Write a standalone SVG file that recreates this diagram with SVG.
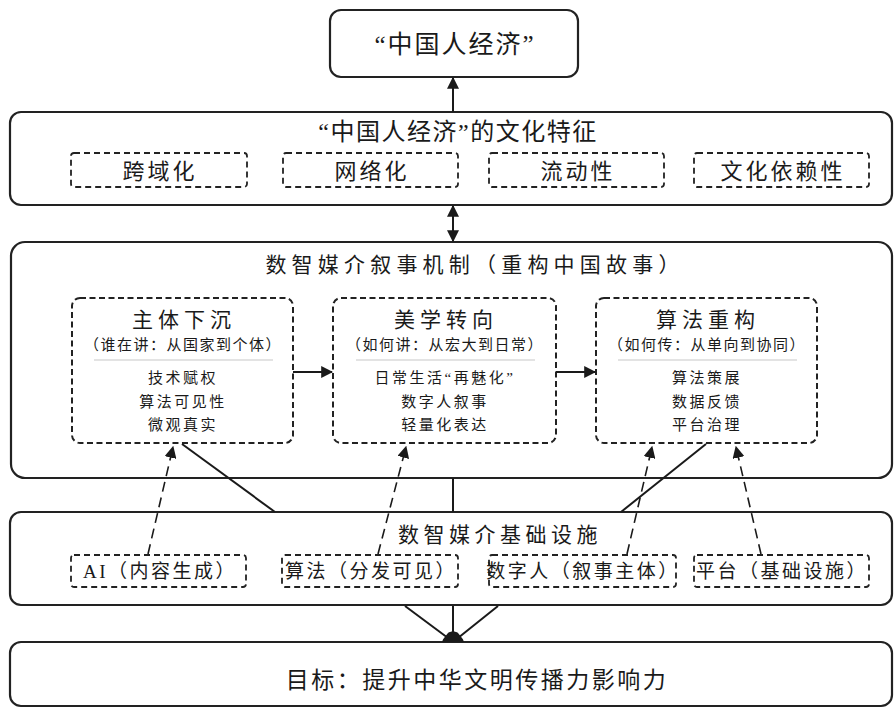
<svg xmlns="http://www.w3.org/2000/svg" width="894" height="708" viewBox="0 0 894 708">
<defs>
<style>
text{font-family:"Liberation Serif","Noto Sans CJK SC",serif;fill:#1a1a1a;text-anchor:middle;dominant-baseline:central}
.box{fill:#fff;stroke:#222;stroke-width:2.2}
.dbox{fill:#fff;stroke:#222;stroke-width:2;stroke-dasharray:6 3.5}
.sbox{fill:none;stroke:#222;stroke-width:1.8;stroke-dasharray:6 4}
.ln{stroke:#1a1a1a;stroke-width:2;fill:none}
.dl{stroke:#1a1a1a;stroke-width:1.6;fill:none;stroke-dasharray:10 6}
.sep{stroke:#c8c8c8;stroke-width:1.2}
.t1{font-size:25px;letter-spacing:2px}
.t2{font-size:24px;letter-spacing:1.5px}
.t3{font-size:22px;letter-spacing:3px}
.t4{font-size:21px;letter-spacing:5.2px}
.t4b{font-size:21px;letter-spacing:4.5px}
.t5{font-size:21px;letter-spacing:5px}
.t6{font-size:15px;letter-spacing:1.5px}
.t7{font-size:15px;letter-spacing:2.5px}
.t8{font-size:19px;letter-spacing:2.5px}
.t9{font-size:23px;letter-spacing:2.5px}
</style>
<marker id="ahb" viewBox="0 0 10 10" refX="9" refY="5" markerWidth="12" markerHeight="12" markerUnits="userSpaceOnUse" orient="auto-start-reverse">
<path d="M0,0 L10,5 L0,10 z" fill="#1a1a1a"/>
</marker>
<marker id="dome" viewBox="0 0 22 12" refX="11" refY="11" markerWidth="22" markerHeight="12" markerUnits="userSpaceOnUse" orient="0">
<path d="M0,12 C1,8 4,6 6,3 C8,1 14,1 16,3 C18,6 21,8 22,12 z" fill="#1a1a1a"/>
</marker>
</defs>

<g id="node-economy">
<rect class="box" x="330" y="10" width="248" height="67" rx="11"/>
<text class="t1" x="455" y="44">“中国人经济”</text>
</g>

<g id="node-features">
<rect class="box" x="10" y="112" width="882" height="93" rx="11"/>
<text class="t2" x="458" y="132">“中国人经济”的文化特征</text>
<rect class="sbox" x="71" y="153" width="176" height="34" rx="3"/>
<text class="t3" x="160" y="171">跨域化</text>
<rect class="sbox" x="283" y="153" width="175" height="34" rx="3"/>
<text class="t3" x="372" y="171">网络化</text>
<rect class="sbox" x="489" y="153" width="175" height="34" rx="3"/>
<text class="t3" x="578" y="171">流动性</text>
<rect class="sbox" x="694" y="153" width="175" height="34" rx="3"/>
<text class="t3" x="783" y="171">文化依赖性</text>
</g>

<g id="node-mechanism">
<rect class="box" x="11" y="242" width="881" height="236" rx="14"/>
<text class="t4" x="475" y="265">数智媒介叙事机制（重构中国故事）</text>
</g>

<g id="node-subject">
<rect class="dbox" x="72" y="298" width="221" height="145" rx="8"/>
<text class="t5" x="184" y="320">主体下沉</text>
<text class="t6" x="183" y="345">（谁在讲：从国家到个体）</text>
<line class="sep" x1="94" y1="360" x2="273" y2="360"/>
<text class="t7" x="183" y="378">技术赋权</text>
<text class="t7" x="183" y="402">算法可见性</text>
<text class="t7" x="183" y="425">微观真实</text>
</g>

<g id="node-aesthetic">
<rect class="dbox" x="333" y="298" width="223" height="145" rx="8"/>
<text class="t5" x="446" y="320">美学转向</text>
<text class="t6" x="445" y="345">（如何讲：从宏大到日常）</text>
<line class="sep" x1="356" y1="360" x2="535" y2="360"/>
<text class="t7" x="445" y="378">日常生活“再魅化”</text>
<text class="t7" x="445" y="402">数字人叙事</text>
<text class="t7" x="445" y="425">轻量化表达</text>
</g>

<g id="node-algorithm">
<rect class="dbox" x="596" y="298" width="221" height="145" rx="8"/>
<text class="t5" x="708" y="320">算法重构</text>
<text class="t6" x="707" y="345">（如何传：从单向到协同）</text>
<line class="sep" x1="618" y1="360" x2="797" y2="360"/>
<text class="t7" x="707" y="378">算法策展</text>
<text class="t7" x="707" y="402">数据反馈</text>
<text class="t7" x="707" y="425">平台治理</text>
</g>

<g id="node-infrastructure">
<rect class="box" x="10" y="512" width="882" height="93" rx="11"/>
<text class="t4b" x="500" y="535">数智媒介基础设施</text>
<rect class="sbox" x="71" y="555" width="175" height="32" rx="3"/>
<text class="t8" x="160" y="571">AI（内容生成）</text>
<rect class="sbox" x="282" y="555" width="176" height="32" rx="3"/>
<text class="t8" x="371" y="571">算法（分发可见）</text>
<rect class="sbox" x="489" y="555" width="187" height="32" rx="3"/>
<text class="t8" x="583" y="571">数字人（叙事主体）</text>
<rect class="sbox" x="694" y="555" width="175" height="32" rx="3"/>
<text class="t8" x="782" y="571">平台（基础设施）</text>
</g>

<g id="node-goal">
<rect class="box" x="10" y="642" width="882" height="64" rx="11"/>
<text class="t9" x="477" y="680">目标：提升中华文明传播力影响力</text>
</g>

<g id="connectors">
<line class="ln" x1="453" y1="112" x2="453" y2="78" marker-end="url(#ahb)"/>
<line class="ln" x1="453" y1="206" x2="453" y2="241" marker-start="url(#ahb)" marker-end="url(#ahb)"/>
<line class="ln" x1="293" y1="372" x2="332" y2="372" marker-end="url(#ahb)"/>
<line class="ln" x1="556" y1="372" x2="595" y2="372" marker-end="url(#ahb)"/>
<line class="ln" x1="182" y1="444" x2="275" y2="512"/>
<line class="ln" x1="706" y1="444" x2="621" y2="512"/>
<line class="ln" x1="453" y1="478" x2="453" y2="512"/>
<line class="dl" x1="148" y1="554" x2="173" y2="447" marker-end="url(#ahb)"/>
<line class="dl" x1="378" y1="554" x2="406" y2="447" marker-end="url(#ahb)"/>
<line class="dl" x1="627" y1="554" x2="652" y2="447" marker-end="url(#ahb)"/>
<line class="dl" x1="761" y1="554" x2="736" y2="447" marker-end="url(#ahb)"/>
<line class="ln" x1="405" y1="606" x2="448" y2="638"/>
<line class="ln" x1="498" y1="606" x2="458" y2="638"/>
<line class="ln" x1="453" y1="606" x2="453" y2="641" marker-end="url(#dome)"/>
</g>
</svg>
